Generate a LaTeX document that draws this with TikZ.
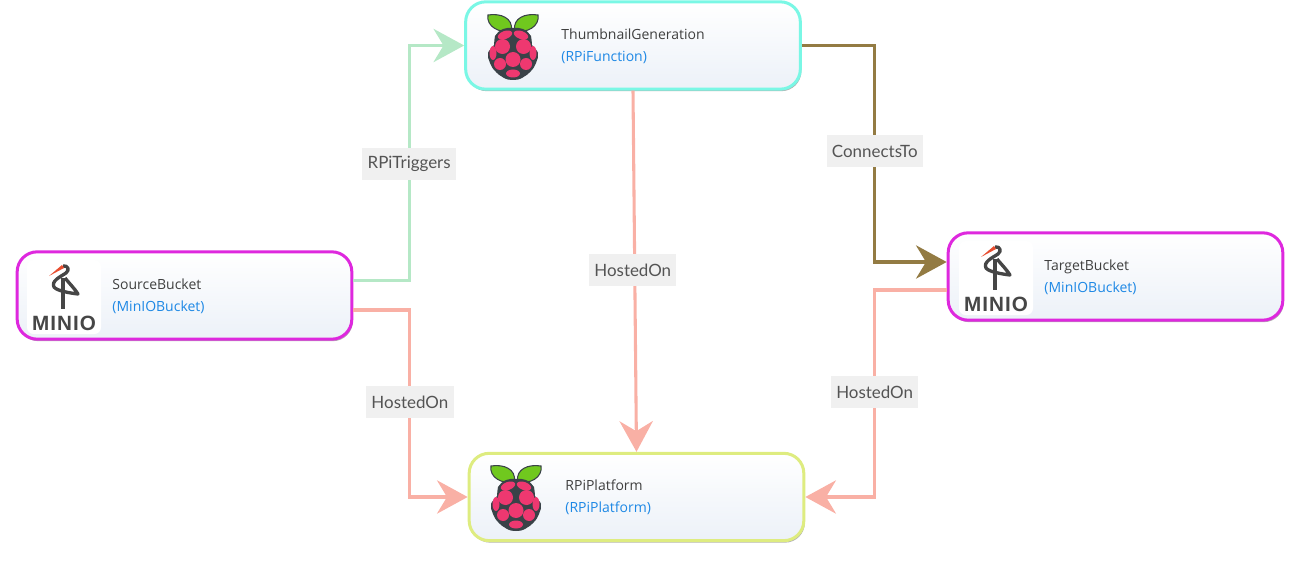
\documentclass[tikz,border=0pt]{standalone}
\usepackage{fontspec}
\setmainfont{Open Sans}
\newfontfamily\edgefont{Lato}
\newfontfamily\miniofont[LetterSpace=5]{Liberation Sans}
\usetikzlibrary{arrows.meta, calc, shadows}
\definecolor{MyAqua}{RGB}{122,247,229}
\definecolor{MyMagenta}{RGB}{222,40,222}
\definecolor{MyLime}{RGB}{222,236,128}
\definecolor{triggergreen}{RGB}{181,232,198}
\definecolor{hostedpink}{RGB}{249,176,165}
\definecolor{connectbrown}{RGB}{147,123,67}
\definecolor{typeblue}{RGB}{30,136,229}
\definecolor{nametext}{RGB}{64,64,64}
\definecolor{edgetext}{RGB}{84,84,84}
\definecolor{labelfill}{RGB}{240,240,240}
\definecolor{cardbottom}{RGB}{236,241,248}
\definecolor{berrypink}{RGB}{238,56,112}
\definecolor{berrydark}{RGB}{58,66,72}
\definecolor{leafgreen}{RGB}{112,200,30}
\definecolor{miniodark}{RGB}{70,70,70}
\definecolor{miniored}{RGB}{232,78,48}
\tikzset{
  card/.style={rectangle, rounded corners=15pt, line width=2.25pt, minimum width=251pt,
    minimum height=65.5pt, top color=white, bottom color=cardbottom,
    drop shadow={shadow xshift=.8pt, shadow yshift=-1.5pt, opacity=.3, fill=black}},
  cardtext/.style={anchor=west, align=left, inner sep=0pt, font=\fontsize{10.5}{16.5}\selectfont,
    text=nametext},
  conn/.style={line width=2.3pt, -{Stealth[length=23pt, width=25pt, inset=7.5pt]}},
  edgelabel/.style={fill=labelfill, text=edgetext, inner xsep=4pt, inner ysep=0pt,
    minimum height=24pt, font=\edgefont\fontsize{12.7}{14}\selectfont},
  rpilogo/.pic={
    % Leaves
    \foreach \s in {-1,1} {
      \filldraw[fill=leafgreen, draw=berrydark, line width=.8pt, xscale=\s]
        (1.5,-15.5) .. controls (0,-28) and (12,-33) .. (25,-31)
        .. controls (27,-20) and (14,-12) .. cycle;
    }
    % Body
    \fill[berrydark] plot[smooth cycle, tension=.7] coordinates {(0,-18) (-10,-17) (-18,-10)
      (-19,-1) (-25,7) (-23,17) (-18,25) (-9,32) (0,34) (9,32) (18,25) (23,17) (25,7)
      (19,-1) (18,-10) (10,-17)};
    % Berries
    \foreach \s in {-1,1} {
      \begin{scope}[xscale=\s]
        \fill[berrypink, rotate around={-20:(8,-11)}] (8,-11) ellipse[x radius=7.5, y radius=4];
        \fill[berrypink] (10.5,0.5) circle[radius=7.5];
        \fill[berrypink] (20,7) ellipse[x radius=3.5, y radius=7];
        \fill[berrypink] (13,18) circle[radius=6];
      \end{scope}
    }
    \fill[berrypink] (0,13.5) circle[radius=7.5];
    \fill[berrypink] (0,27.5) ellipse[x radius=7, y radius=4];
  },
  miniologo/.pic={
    \fill[white, rounded corners=5pt] (-37,-37) rectangle (37,37);
    % Bird
    \draw[miniodark, line width=2.5pt, line join=round]
      (-1,-31) .. controls (4,-32) and (6,-27) .. (2,-24)
      .. controls (-4,-20) and (-13,-16) .. (-10,-10)
      .. controls (-7,-6) and (6,-4) .. (14,-3)
      .. controls (11,-8) and (5,-14) .. (1,-19);
    \draw[miniodark, line width=2.5pt] (-1,-19) -- (-1,12);
    \fill[miniored] (-15,-21) -- (-2,-32) -- (0,-29) -- cycle;
    % Name
    \node[inner sep=0pt, text=miniodark, font=\miniofont\bfseries\fontsize{15.5}{16}\selectfont]
      (miniotext) at (0,26) {MINIO};
  }
}

\begin{document}
\begin{tikzpicture}[x=0.75pt, y=-0.75pt, >=Stealth]
  \useasboundingbox (0,0) rectangle (1293,563);

  % Cards
  \node[card, draw=MyAqua] (thumb) at (633,45.5) {};
  \node[card, draw=MyMagenta] (source) at (184.5,295.5) {};
  \node[card, draw=MyMagenta] (target) at (1115.5,276.5) {};
  \node[card, draw=MyLime] (platform) at (636.5,497) {};

  % Logos
  \pic at (513,46) {rpilogo};
  \pic at (516,497) {rpilogo};
  \pic at (64,297) {miniologo};
  \pic at (996,278) {miniologo};

  % Names and types
  \node[cardtext] (thumbtext) at ($(thumb.west)+(97,1)$)
    {ThumbnailGeneration\\\textcolor{typeblue}{(RPiFunction)}};
  \node[cardtext] (sourcetext) at ($(source.west)+(96.5,1)$)
    {SourceBucket\\\textcolor{typeblue}{(MinIOBucket)}};
  \node[cardtext] (targettext) at ($(target.west)+(97.5,1)$)
    {TargetBucket\\\textcolor{typeblue}{(MinIOBucket)}};
  \node[cardtext] (platformtext) at ($(platform.west)+(97.5,0.5)$)
    {RPiPlatform\\\textcolor{typeblue}{(RPiPlatform)}};

  % Connectors
  \draw[conn, triggergreen] ($(source.east)+(0,-15)$) -- ++(56.5,0)
    |- node[edgelabel, pos=.25, xshift=-.5pt, yshift=-.5pt] {RPiTriggers} (thumb.west);
  \draw[conn, hostedpink] ($(source.east)+(0,14.5)$) -- ++(56.5,0)
    |- node[edgelabel, pos=.25, yshift=.8pt] {HostedOn} (platform.west);
  \draw[conn, hostedpink] (thumb.south) -- node[edgelabel, xshift=-1.5pt, yshift=.8pt] {HostedOn} (platform.north);
  \draw[conn, connectbrown] (thumb.east) -- ++(73,0)
    |- node[edgelabel, pos=.25, yshift=2pt] {ConnectsTo} ($(target.west)+(0,-14.5)$);
  \draw[conn, hostedpink] ($(target.west)+(0,13.5)$) -- ++(-72,0)
    |- node[edgelabel, pos=.25, yshift=.8pt] {HostedOn} (platform.east);
\end{tikzpicture}
\end{document}
